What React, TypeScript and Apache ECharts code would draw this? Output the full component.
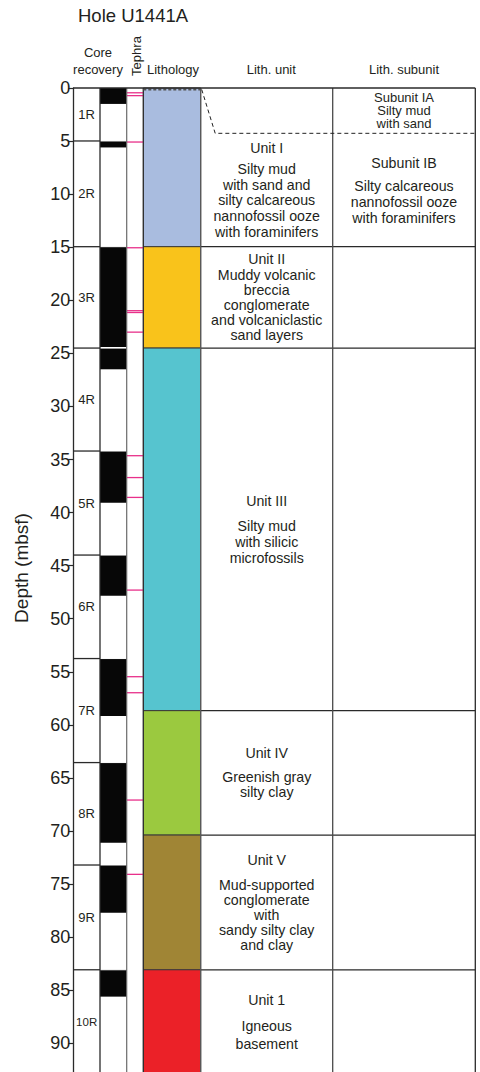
import React, { useEffect, useRef } from "react";
import * as echarts from "echarts";

// ---------- data ----------
const depthTicks = [0, 5, 10, 15, 20, 25, 30, 35, 40, 45, 50, 55, 60, 65, 70, 75, 80, 85, 90];
const depthMax = 92.7;

const coreNames = ["1R", "2R", "3R", "4R", "5R", "6R", "7R", "8R", "9R", "10R"];
const coreTops = [0, 4.99, 14.95, 24.5, 34.2, 44.0, 53.75, 63.55, 73.2, 83.07];
const coreBottoms = [4.99, 14.95, 24.5, 34.2, 44.0, 53.75, 63.55, 73.2, 83.07, 92.9];
const recoveryBottoms = [1.5, 5.6, 24.4, 26.5, 39.07, 47.83, 59.17, 71.1, 77.7, 85.6];

const tephraDepths = [0.45, 0.72, 5.09, 15.05, 20.98, 21.15, 23.0, 34.64, 36.7, 38.57, 47.3, 55.46, 56.97, 67.08, 74.08];

const unitNames = ["Unit I", "Unit II", "Unit III", "Unit IV", "Unit V", "Unit 1"];
const unitTops = [0, 14.95, 24.5, 58.66, 70.38, 83.07];
const unitBottoms = [14.95, 24.5, 58.66, 70.38, 83.07, 92.9];
const unitDescriptions = [
  ["Silty mud", "with sand and", "silty calcareous", "nannofossil ooze", "with foraminifers"],
  ["Muddy volcanic", "breccia", "conglomerate", "and volcaniclastic", "sand layers"],
  ["Silty mud", "with silicic", "microfossils"],
  ["Greenish gray", "silty clay"],
  ["Mud-supported", "conglomerate", "with", "sandy silty clay", "and clay"],
  ["Igneous", "basement"],
];

const subunitNames = ["Subunit IA", "Subunit IB"];
const subunitTops = [0, 4.27];
const subunitBottoms = [4.27, 14.95];
const subunitDescriptions = [
  ["Silty mud", "with sand"],
  ["Silty calcareous", "nannofossil ooze", "with foraminifers"],
];

// ---------- styles / layout ----------
const unitColors = ["#A9BCDF", "#F9C31B", "#56C4CF", "#9BC93F", "#A08535", "#EB2128"];
const unitTitleGaps = [20.6, 16, 25.3, 24, 25, 26];
const unitLineHeights = [15.7, 15, 16, 15, 15, 18];
const subunitTitleGaps = [13, 23.4];
const subunitLineHeights = [13, 15.8];
const subunitFontSizes = [13, 14.2];

const FONT = "'Liberation Sans', Arial, Helvetica, sans-serif";
const INK = "#231F20";
const LINE = "#2a2a2a";
const PINK = "#E8308A";

// column offsets from the depth axis (pixels)
const C_CORE = 26.7;
const C_REC_R = 53.4;
const C_LITH_L = 70;
const C_LITH_R = 127.4;
const C_SUB = 259.4;
const C_RIGHT = 402;

function textBlock(cx: number, yc: number, lines: string[], gap: number, lh: number, fs = 14.2) {
  const n = lines.length;
  const total = n > 1 ? gap + (n - 2) * lh : 0;
  const y0 = yc - total / 2;
  return lines.map((t, k) => ({
    type: "text",
    x: cx,
    y: k === 0 ? y0 : y0 + gap + (k - 1) * lh,
    style: {
      text: t,
      fontSize: fs,
      fontFamily: FONT,
      fill: INK,
      align: "center",
      verticalAlign: "middle",
    },
  }));
}

export default function App() {
  const ref = useRef<HTMLDivElement>(null);

  useEffect(() => {
    document.body.style.margin = "0";
    const chart = echarts.init(ref.current!, null, { renderer: "svg" });

    const yOf = (api: any, d: number) => api.coord([0, d])[1];

    const option: any = {
      animation: false,
      grid: { left: 73.3, right: 4.7, top: 88, bottom: 0, containLabel: false },
      xAxis: { type: "value", min: 0, max: 1, show: false },
      yAxis: {
        type: "value",
        inverse: true,
        min: 0,
        max: depthMax,
        interval: 5,
        name: "Depth (mbsf)",
        nameLocation: "middle",
        nameRotate: 90,
        nameGap: 42,
        nameTextStyle: { fontSize: 19, fontFamily: FONT, color: INK, padding: [0, 0, 0, 24] },
        axisLine: { show: true, lineStyle: { color: LINE, width: 1.3 } },
        axisTick: { show: true, length: 5, customValues: depthTicks, lineStyle: { color: LINE, width: 1.2 } },
        axisLabel: {
          customValues: depthTicks,
          fontSize: 18,
          margin: 3,
          color: INK,
          fontFamily: FONT,
          formatter: (v: number) => (v % 5 === 0 ? String(v) : ""),
        },
        splitLine: { show: false },
      },
      graphic: [
        { type: "text", x: 78, y: 15, style: { text: "Hole U1441A", fontSize: 18.5, fontFamily: FONT, fill: INK, align: "left", verticalAlign: "middle" } },
        { type: "text", x: 98, y: 52.7, style: { text: "Core", fontSize: 13, fontFamily: FONT, fill: INK, align: "center", verticalAlign: "middle" } },
        { type: "text", x: 98, y: 69, style: { text: "recovery", fontSize: 13, fontFamily: FONT, fill: INK, align: "center", verticalAlign: "middle" } },
        { type: "text", x: 136.5, y: 56, rotation: Math.PI / 2, style: { text: "Tephra", fontSize: 13, fontFamily: FONT, fill: INK, align: "center", verticalAlign: "middle" } },
        { type: "text", x: 173, y: 69, style: { text: "Lithology", fontSize: 13, fontFamily: FONT, fill: INK, align: "center", verticalAlign: "middle" } },
        { type: "text", x: 271.3, y: 69, style: { text: "Lith. unit", fontSize: 13, fontFamily: FONT, fill: INK, align: "center", verticalAlign: "middle" } },
        { type: "text", x: 404, y: 69, style: { text: "Lith. subunit", fontSize: 13, fontFamily: FONT, fill: INK, align: "center", verticalAlign: "middle" } },
      ],
      series: [
        // lithology fills + unit boundaries + unit texts
        {
          type: "custom",
          z: 2,
          data: unitTops.map((t, i) => [t, unitBottoms[i]]),
          renderItem: (params: any, api: any) => {
            const i = params.dataIndex;
            const L = params.coordSys.x;
            const gBottom = params.coordSys.y + params.coordSys.height;
            const yT = yOf(api, api.value(0));
            const yB = Math.min(yOf(api, api.value(1)), gBottom + 2);
            const textTop = i === 0 ? subunitBottoms[0] : api.value(0);
            const yc = (yOf(api, textTop) + yOf(api, api.value(1))) / 2;
            const children: any[] = [
              {
                type: "rect",
                shape: { x: L + C_LITH_L, y: yT, width: C_LITH_R - C_LITH_L, height: yB - yT },
                style: { fill: unitColors[i], stroke: "#3a3a3a", lineWidth: 1 },
              },
            ];
            if (i > 0) {
              children.push({
                type: "line",
                shape: { x1: L + C_LITH_R, y1: yT, x2: L + C_RIGHT, y2: yT },
                style: { stroke: LINE, lineWidth: 1.3 },
              });
            }
            children.push(
              ...textBlock(L + (C_LITH_R + C_SUB) / 2, yc, [unitNames[i], ...unitDescriptions[i]], unitTitleGaps[i], unitLineHeights[i])
            );
            return { type: "group", children };
          },
        },
        // subunit texts
        {
          type: "custom",
          z: 3,
          data: subunitTops.map((t, i) => [t, subunitBottoms[i]]),
          renderItem: (params: any, api: any) => {
            const i = params.dataIndex;
            const L = params.coordSys.x;
            const yc = (yOf(api, api.value(0)) + yOf(api, api.value(1))) / 2;
            return {
              type: "group",
              children: textBlock(
                L + (C_SUB + C_RIGHT) / 2,
                yc,
                [subunitNames[i], ...subunitDescriptions[i]],
                subunitTitleGaps[i],
                subunitLineHeights[i],
                subunitFontSizes[i]
              ),
            };
          },
        },
        // core recovery
        {
          type: "custom",
          z: 3,
          data: coreTops.map((t, i) => [t, coreBottoms[i], recoveryBottoms[i]]),
          renderItem: (params: any, api: any) => {
            const i = params.dataIndex;
            const L = params.coordSys.x;
            const yT = yOf(api, api.value(0));
            const yB = yOf(api, api.value(1));
            const yR = yOf(api, api.value(2));
            const children: any[] = [
              {
                type: "rect",
                shape: { x: L + C_CORE, y: yT, width: C_REC_R - C_CORE, height: yR - yT },
                style: { fill: "#070707" },
              },
              {
                type: "text",
                x: L + C_CORE / 2,
                y: (yT + yB) / 2,
                style: {
                  text: coreNames[i],
                  fontSize: coreNames[i].length > 2 ? 11.5 : 13,
                  fontFamily: FONT,
                  fill: INK,
                  align: "center",
                  verticalAlign: "middle",
                },
              },
            ];
            if (i > 0) {
              children.push({
                type: "line",
                shape: { x1: L, y1: yT, x2: L + C_CORE, y2: yT },
                style: { stroke: LINE, lineWidth: 1.3 },
              });
              children.push({
                type: "line",
                shape: { x1: L + C_CORE, y1: yT, x2: L + C_REC_R, y2: yT },
                style: { stroke: "#ffffff", lineWidth: 1 },
              });
            }
            return { type: "group", children };
          },
        },
        // tephra layers
        {
          type: "custom",
          z: 3,
          data: tephraDepths.map((d) => [d]),
          renderItem: (params: any, api: any) => {
            const L = params.coordSys.x;
            const y = yOf(api, api.value(0));
            return {
              type: "line",
              shape: { x1: L + C_REC_R, y1: y, x2: L + C_LITH_L, y2: y },
              style: { stroke: PINK, lineWidth: 1.3 },
            };
          },
        },
        // frame + subunit dashed boundary
        {
          type: "custom",
          z: 4,
          data: [[0, subunitBottoms[0]]],
          renderItem: (params: any, api: any) => {
            const L = params.coordSys.x;
            const gBottom = params.coordSys.y + params.coordSys.height;
            const y0 = yOf(api, 0);
            const yS = yOf(api, api.value(1));
            const v = (dx: number, color: string, w: number) => ({
              type: "line",
              shape: { x1: L + dx, y1: y0, x2: L + dx, y2: gBottom },
              style: { stroke: color, lineWidth: w },
            });
            return {
              type: "group",
              children: [
                v(C_CORE, LINE, 1.3),
                v(C_REC_R, "#6a6a6a", 1.2),
                v(C_LITH_L, LINE, 1.1),
                v(C_LITH_R, "#5a5a5a", 1.2),
                v(C_SUB, "#4a4a4a", 1.3),
                v(C_RIGHT, LINE, 1.3),
                {
                  type: "line",
                  shape: { x1: L + C_LITH_L, y1: y0 + 1.6, x2: L + C_LITH_R, y2: y0 + 1.6 },
                  style: { stroke: "#555555", lineWidth: 2, lineDash: [3, 2] },
                },
                {
                  type: "line",
                  shape: { x1: L, y1: y0, x2: L + C_RIGHT, y2: y0 },
                  style: { stroke: LINE, lineWidth: 1.3 },
                },
                {
                  type: "polyline",
                  shape: { points: [[L + C_LITH_R + 1, y0 + 1.5], [L + C_LITH_R + 14.5, yS], [L + C_RIGHT, yS]] },
                  style: { stroke: "#222222", lineWidth: 1, lineDash: [4, 3], fill: "none" },
                },
              ],
            };
          },
        },
      ],
    };

    chart.setOption(option);
    return () => chart.dispose();
  }, []);

  return <div ref={ref} style={{ width: 480, height: 1072, position: "absolute", left: 0, top: 0 }} />;
}
